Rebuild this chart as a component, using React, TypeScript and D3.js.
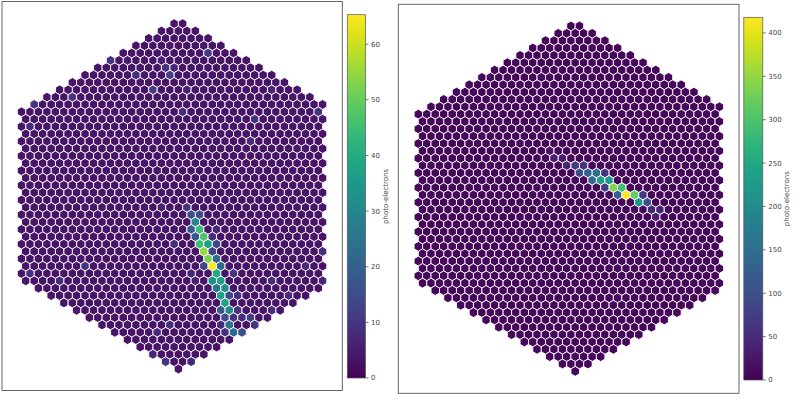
import React from "react";
import * as d3 from "d3";

// Photo-electron charge: the image rows/columns of every cell that stands out.
const leftRows = [25,26,26,27,28,28,29,29,30,30,30,31,31,32,32,33,33,33,34,34,35,35,36,36,37,37,38,39,39,40,40,40,41,41,42,42,
  5,5,6,6,7,7,9,9,10,11,12,13,14,4,30,
  37,39,40,41,29,28,25,34,35,46,46,45,42,42,39,37,35,41,35,33,31,16,34,35,33,5,9,12];
const leftCols = [1,1.5,2.5,2,1.5,2.5,2,3,2.5,3.5,4.5,3,4,3.5,4.5,3,4,5,4.5,6.5,4,5,4.5,5.5,5,6,5.5,5,6,5.5,6.5,8.5,5,6,6.5,7.5,
  -8,-2,-1.5,-0.5,-1,-5,-3,11,-12.5,-17,16.5,9,-17.5,3.5,-0.5,
  7,7,7.5,-1,4,4.5,-2,1.5,2,-1.5,1.5,-3,5.5,-2.5,11,13,17,9,11,15,17,8.5,-17.5,-14,-11,-6,1,0.5];
const leftValues = [10,15,15,30,18,45,18,47,45,37,14,55,14,52,22,14,65,22,40,10,33,36,25,32,37,15,38,18,30,15,10,12,8,25,22,15,
  10,6,9,7,12,8,12,7,10,10,9,9,8,11,8,
  9,10,8,9,8,7,6,7,6,10,7,7,9,8,9,8,7,10,9,8,8,8,9,8,10,5,6,8];
const leftMax = 65.3;
const leftTicks = [0,10,20,30,40,50,60];
const leftBase = 3.5;

const rightRows = [23,22,22,23,23,24,24,23,21,21,21,20,20,20,20,19,19,19,18,18,17,22,25,25,26];
const rightCols = [6,4.5,5.5,7,5,7.5,8.5,8,3,4,2,1.5,2.5,0.5,3.5,0,1,-1,-2.5,-1.5,-3,3.5,9,10,9.5];
const rightValues = [418,340,290,320,130,220,100,70,230,220,140,130,150,90,60,70,60,40,35,30,20,70,50,40,35];
const rightMax = 418;
const rightTicks = [0,50,100,150,200,250,300,350,400];
const rightBase = 8;

const LAST_ROW = 47;
const COLUMN_UNIT = 8.48;
const ROW_UNIT = 7.347;
const HEX_R = COLUMN_UNIT / Math.sqrt(3);

function cameraCells() {
  const cells: { r: number; c: number }[] = [];
  for (let r = 0; r <= LAST_ROW; r++) {
    const odd = r % 2 === 1;
    const grow = 0.5 + 1.5 * r;
    const shrink = 1.5 * (LAST_ROW - r);
    const left = Math.min(odd ? 18 : 18.5, grow, shrink);
    const right = Math.min(odd ? 17 : 16.5, grow, shrink);
    for (let c = -left; c <= right + 1e-6; c += 1) cells.push({ r, c });
  }
  return cells;
}

const hexPath = d3.line()(
  d3.range(6).map((i) => {
    const a = (Math.PI / 3) * i - Math.PI / 2;
    return [HEX_R * Math.cos(a), HEX_R * Math.sin(a)] as [number, number];
  })
) + "Z";

type PanelProps = {
  id: string; rows: number[]; cols: number[]; values: number[]; base: number; vmax: number; ticks: number[];
  box: [number, number, number, number]; cx: number; y0: number;
  bar: [number, number, number, number]; labelX: number;
};

function Panel({ id, rows, cols, values, base, vmax, ticks, box, cx, y0, bar, labelX }: PanelProps) {
  const x = d3.scaleLinear().domain([0, 1]).range([cx, cx + COLUMN_UNIT]);
  const y = d3.scaleLinear().domain([0, LAST_ROW]).range([y0, y0 + LAST_ROW * ROW_UNIT]);
  const color = d3.scaleSequential(d3.interpolateViridis).domain([0, vmax]);
  const lookup = new Map(rows.map((r, i) => [`${r},${cols[i]}`, values[i]]));
  const [bx0, by0, bx1, by1] = bar;
  const cb = d3.scaleLinear().domain([0, vmax]).range([by1, by0]);
  const stops = d3.range(0, 1.0001, 0.05);
  const ink = "#444";
  return (
    <g>
      <rect x={box[0]} y={box[1]} width={box[2] - box[0]} height={box[3] - box[1]} fill="#fff" stroke="#555" strokeWidth={0.9} />
      {cameraCells().map(({ r, c }) => (
        <path key={`${r},${c}`} d={hexPath} transform={`translate(${x(c)},${y(r)})`}
          fill={color(lookup.get(`${r},${c}`) ?? base)} stroke="#fff" strokeOpacity={0.9} strokeWidth={1} />
      ))}
      <defs>
        <linearGradient id={id} x1="0" y1="1" x2="0" y2="0">
          {stops.map((s) => <stop key={s} offset={s} stopColor={d3.interpolateViridis(s)} />)}
        </linearGradient>
      </defs>
      <rect x={bx0} y={by0} width={bx1 - bx0} height={by1 - by0} fill={`url(#${id})`} stroke="#555" strokeWidth={0.7} />
      {ticks.map((t) => (
        <g key={t} transform={`translate(${bx1},${cb(t)})`}>
          <line x2={3} stroke={ink} strokeWidth={0.7} />
          <text x={5.5} dy="0.35em" fontSize={7} fontFamily="DejaVu Sans" fill={ink}>{t}</text>
        </g>
      ))}
      <text transform={`translate(${labelX},${(by0 + by1) / 2}) rotate(-90)`} textAnchor="middle" fontSize={7} fontFamily="DejaVu Sans" fill={ink}>
        photo-electrons
      </text>
    </g>
  );
}

export default function App() {
  return (
    <svg width={800} height={402} style={{ position: "absolute", left: 0, top: 0, display: "block", background: "#fff" }}>
      <Panel id="cbL" rows={leftRows} cols={leftCols} values={leftValues} base={leftBase} vmax={leftMax} ticks={leftTicks}
        box={[2, 1.5, 342.3, 390.5]} cx={178.4} y0={23.7} bar={[347.3, 14.7, 365.5, 378]} labelX={388} />
      <Panel id="cbR" rows={rightRows} cols={rightCols} values={rightValues} base={rightBase} vmax={rightMax} ticks={rightTicks}
        box={[398.3, 4.3, 739, 393.3]} cx={575.2} y0={26} bar={[743.8, 17.3, 762.8, 380]} labelX={789} />
    </svg>
  );
}
